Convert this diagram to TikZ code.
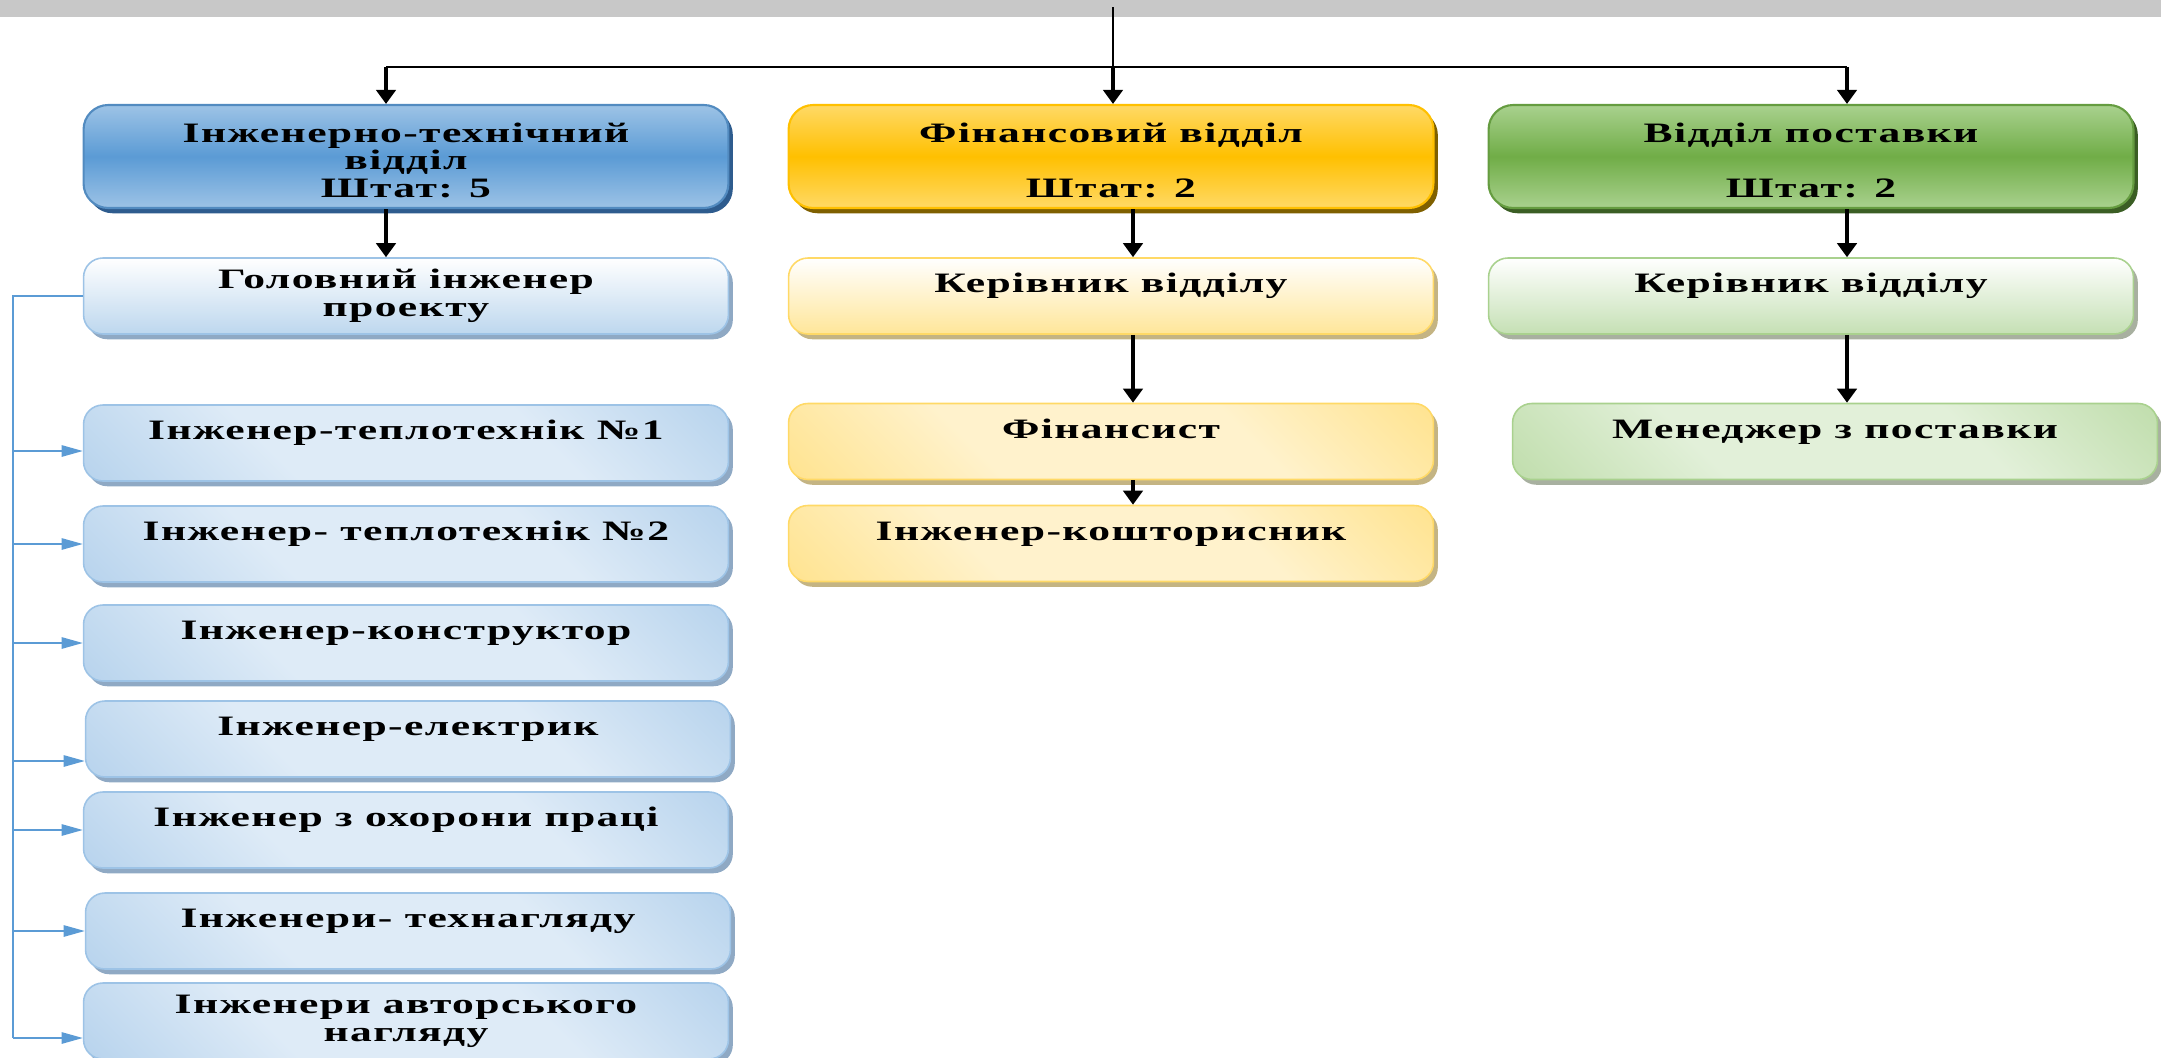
\documentclass[tikz,border=0pt]{standalone}
\usepackage{fontspec}
\setmainfont{Liberation Serif}[FakeStretch=1.55,LetterSpace=5]
\usetikzlibrary{arrows.meta,shadows,calc}
\definecolor{B1}{HTML}{5B9BD5}
\definecolor{B2}{HTML}{9DC3E6}
\definecolor{B3}{HTML}{BDD7EE}
\definecolor{B4}{HTML}{DEEBF7}
\definecolor{B5}{HTML}{2E5C8E}
\definecolor{B6}{HTML}{8FA9C4}
\definecolor{O1}{HTML}{FFC000}
\definecolor{O2}{HTML}{FFD966}
\definecolor{O3}{HTML}{FFE699}
\definecolor{O4}{HTML}{FFF2CC}
\definecolor{O5}{HTML}{7F6000}
\definecolor{O6}{HTML}{C4B483}
\definecolor{G1}{HTML}{70AD47}
\definecolor{G2}{HTML}{A9D18E}
\definecolor{G3}{HTML}{C5E0B4}
\definecolor{G4}{HTML}{E2F0D9}
\definecolor{G5}{HTML}{3B5E24}
\definecolor{G6}{HTML}{A8B0A0}
\definecolor{GR}{HTML}{C8C8C8}
\pgfdeclareverticalshading{DB}{100bp}{color(0bp)=(B2); color(36bp)=(B4); color(64bp)=(B4); color(100bp)=(B2)}
\pgfdeclareverticalshading{DO}{100bp}{color(0bp)=(O2); color(36bp)=(O4); color(64bp)=(O4); color(100bp)=(O2)}
\pgfdeclareverticalshading{DG}{100bp}{color(0bp)=(G2); color(36bp)=(G4); color(64bp)=(G4); color(100bp)=(G2)}
\tikzset{
    BX/.style ={rectangle, rounded corners=11pt, minimum width=12.9cm, minimum height=1.52cm, line width=0.9pt, align=center, font=\fontsize{16pt}{15.8pt}\selectfont\bfseries},
    ON/.style ={text height=11pt, text depth=14.5pt},
    HB/.style ={BX, minimum height=2.06cm, rounded corners=14pt, line width=1.2pt, text height=47pt, draw=B1!90!black, top color=B2, bottom color=B2, middle color=B1, general shadow={fill=B5, shadow xshift=2.5pt, shadow yshift=-3pt}},
    HO/.style ={BX, minimum height=2.06cm, rounded corners=14pt, line width=1.2pt, text height=47pt, draw=O1, top color=O2, bottom color=O2, middle color=O1, general shadow={fill=O5, shadow xshift=2.5pt, shadow yshift=-3pt}},
    HG/.style ={BX, minimum height=2.06cm, rounded corners=14pt, line width=1.2pt, text height=47pt, draw=G1!90!black, top color=G2, bottom color=G2, middle color=G1, general shadow={fill=G5, shadow xshift=2.5pt, shadow yshift=-3pt}},
    SB/.style ={BX, draw=B2, top color=white, bottom color=B3, general shadow={fill=B6, shadow xshift=2.5pt, shadow yshift=-3pt}},
    SO/.style ={BX, draw=O2, top color=white, bottom color=O3, general shadow={fill=O6, shadow xshift=2.5pt, shadow yshift=-3pt}},
    SG/.style ={BX, draw=G2, top color=white, bottom color=G3, general shadow={fill=G6, shadow xshift=2.5pt, shadow yshift=-3pt}},
    LB/.style ={BX, draw=B2, shading=DB, shading angle=-45, general shadow={fill=B6, shadow xshift=2.5pt, shadow yshift=-3pt}},
    LO/.style ={BX, draw=O2, shading=DO, shading angle=-45, general shadow={fill=O6, shadow xshift=2.5pt, shadow yshift=-3pt}},
    LG/.style ={BX, draw=G2, shading=DG, shading angle=-45, general shadow={fill=G6, shadow xshift=2.5pt, shadow yshift=-3pt}},
    LN/.style ={line width=1pt},
    AR/.style ={line width=2pt, -{Triangle[length=8pt, width=11pt]}},
    BL/.style ={B1, line width=0.8pt},
    BA/.style ={BL, -{Triangle[length=12pt, width=6.5pt]}}}
\begin{document}
\begin{tikzpicture}[x=0.02cm, y=-0.02cm]
        \useasboundingbox (0,0) rectangle (2161,1058);
        \fill[GR] (0,0) rectangle (2161,17);
        \node[HB] (1) at(406,156.5){Інженерно-технічний\\відділ\\Штат: 5};
        \node[HO] (2) at(1111,156.5){Фінансовий відділ\\[15.8pt]Штат: 2};
        \node[HG] (3) at(1811,156.5){Відділ поставки\\[15.8pt]Штат: 2};
        \node[SB] (4) at(406,296){Головний інженер\\проекту};
        \node[SO,ON] (5) at(1111,296){Керівник відділу};
        \node[SG,ON] (6) at(1811,296){Керівник відділу};
        \node[LB,ON] (7) at(406,443){Інженер-теплотехнік №1};
        \node[LB,ON] (8) at(406,544){Інженер- теплотехнік №2};
        \node[LB,ON] (9) at(406,643){Інженер-конструктор};
        \node[LB,ON] (10) at(408,739){Інженер-електрик};
        \node[LB,ON] (11) at(406,830){Інженер з охорони праці};
        \node[LB,ON] (12) at(408,931){Інженери- технагляду};
        \node[LB] (13) at(406,1021){Інженери авторського\\нагляду};
        \node[LO,ON] (14) at(1111,441.5){Фінансист};
        \node[LO,ON] (15) at(1111,543.5){Інженер-кошторисник};
        \node[LG,ON] (16) at(1835,441.5){Менеджер з поставки};
        \coordinate (s) at (1113,7);
        \coordinate (bl) at (386,67);
        \coordinate (br) at (1847,67);
        \coordinate (fx) at (1133,0);
        \coordinate (lb) at (13,0);
        \path (7.west) ++(0,8) coordinate (7a);
        \path (10.west) ++(0,22) coordinate (10a);
        \path (13.west) ++(0,17) coordinate (13a);
        \draw[LN] (s) -- (s |- bl);
        \draw[LN] (bl) -- (br);
        \draw[AR] (bl) -- (bl |- 1.north);
        \draw[AR] (s |- bl) -- (s |- 2.north);
        \draw[AR] (br) -- (br |- 3.north);
        \draw[AR] (bl |- 1.south) -- (bl |- 4.north);
        \draw[AR] (fx |- 2.south) -- (fx |- 5.north);
        \draw[AR] (fx |- 5.south) -- (fx |- 14.north);
        \draw[AR] (fx |- 14.south) -- (fx |- 15.north);
        \draw[AR] (br |- 3.south) -- (br |- 6.north);
        \draw[AR] (br |- 6.south) -- (br |- 16.north);
        \draw[BL] (4.west) -| (lb |- 13a);
        \draw[BA] (lb |- 7a) -- (7a);
        \draw[BA] (lb |- 8.west) -- (8.west);
        \draw[BA] (lb |- 9.west) -- (9.west);
        \draw[BA] (lb |- 10a) -- (10a);
        \draw[BA] (lb |- 11.west) -- (11.west);
        \draw[BA] (lb |- 12.west) -- (12.west);
        \draw[BA] (lb |- 13a) -- (13a);
    \end{tikzpicture}
\end{document}
